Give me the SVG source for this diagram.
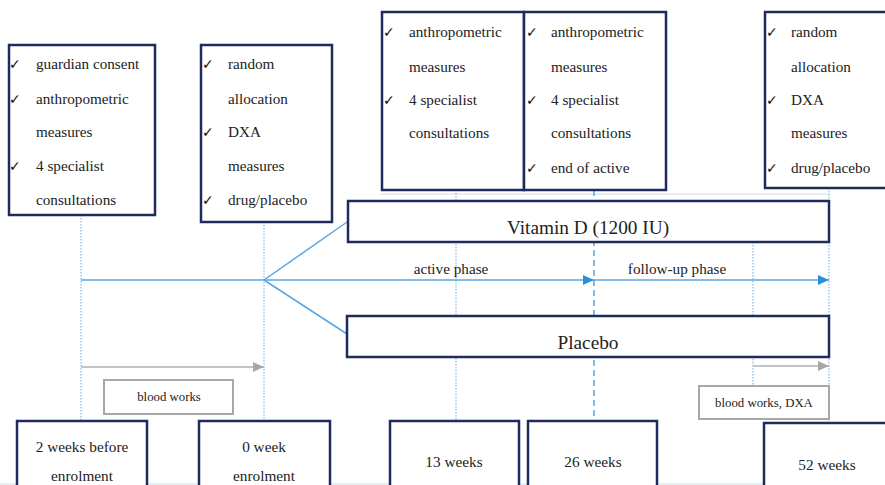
<svg xmlns="http://www.w3.org/2000/svg" width="885" height="485" viewBox="0 0 885 485">
<defs>
<style>
.box{fill:#fff;stroke:#1f2b5e;stroke-width:2.5}
.gbox{fill:#fff;stroke:#a8a8a8;stroke-width:2}
.t{font-family:"Liberation Serif",serif;font-size:15.2px;fill:#222}
.tc{font-family:"Liberation Serif",serif;font-size:15.3px;fill:#222;text-anchor:middle}
.tb{font-family:"Liberation Serif",serif;font-size:19.3px;fill:#222;text-anchor:middle}
.ts{font-family:"Liberation Serif",serif;font-size:12.8px;fill:#222;text-anchor:middle}
.tp{font-family:"Liberation Serif",serif;font-size:15.2px;fill:#222;text-anchor:middle}
.ck{font-family:"DejaVu Sans",sans-serif;font-size:14px;fill:#111}
.dot{stroke:#7fb8e6;stroke-width:1.2;stroke-dasharray:1.5 1.5;fill:none}
.dash{stroke:#4a9ee0;stroke-width:1.4;stroke-dasharray:6 4;fill:none}
.bl{stroke:#5aa6e2;stroke-width:1.5;fill:none}
.gl{stroke:#b0b0b0;stroke-width:1.5;fill:none}
.faint{stroke:#d3dde9;stroke-width:1;fill:none}
</style>
<marker id="ab" viewBox="0 0 11 10" refX="11" refY="5" markerWidth="11" markerHeight="10" markerUnits="userSpaceOnUse" orient="auto">
<path d="M0,0 L11,5 L0,10 Z" fill="#2a90dc"/>
</marker>
<marker id="ag" viewBox="0 0 11 10" refX="11" refY="5" markerWidth="11" markerHeight="10" markerUnits="userSpaceOnUse" orient="auto">
<path d="M0,0 L11,5 L0,10 Z" fill="#a8a8a8"/>
</marker>
</defs>
<rect width="885" height="485" fill="#fff"/>

<g id="connectors">
<line class="faint" x1="380" y1="194" x2="830" y2="194"/>
<line class="faint" x1="0" y1="484" x2="885" y2="484"/>
<line class="dot" x1="81" y1="215" x2="81" y2="421"/>
<line class="dot" x1="264" y1="222" x2="264" y2="421"/>
<line class="dot" x1="456" y1="190" x2="456" y2="421"/>
<line class="dash" x1="594" y1="190" x2="594" y2="421"/>
<line class="dot" x1="753" y1="242" x2="753" y2="386"/>
<line class="dot" x1="829" y1="188" x2="829" y2="423"/>
<line class="bl" x1="81" y1="280" x2="594" y2="280" marker-end="url(#ab)"/>
<line class="bl" x1="594" y1="280" x2="829" y2="280" marker-end="url(#ab)"/>
<line class="bl" x1="264" y1="280" x2="347" y2="222"/>
<line class="bl" x1="264" y1="280" x2="347" y2="334"/>
<line class="gl" x1="81" y1="367" x2="264" y2="367" marker-end="url(#ag)"/>
<line class="gl" x1="753" y1="366" x2="829" y2="366" marker-end="url(#ag)"/>
<text class="tp" x="451" y="274">active phase</text>
<text class="tp" x="677" y="274">follow-up phase</text>
</g>

<g id="screening">
<rect class="box" x="9" y="45" width="146" height="170"/>
<text class="ck" x="9" y="69">✓</text>
<text class="ck" x="9" y="104">✓</text>
<text class="ck" x="9" y="171">✓</text>
<text class="t" x="36" y="69">guardian consent</text>
<text class="t" x="36" y="104">anthropometric</text>
<text class="t" x="36" y="137">measures</text>
<text class="t" x="36" y="171">4 specialist</text>
<text class="t" x="36" y="205">consultations</text>
</g>

<g id="baseline">
<rect class="box" x="201" y="45" width="131" height="177"/>
<text class="ck" x="202" y="69">✓</text>
<text class="ck" x="202" y="137">✓</text>
<text class="ck" x="202" y="205">✓</text>
<text class="t" x="228" y="69">random</text>
<text class="t" x="228" y="104">allocation</text>
<text class="t" x="228" y="137">DXA</text>
<text class="t" x="228" y="171">measures</text>
<text class="t" x="228" y="205">drug/placebo</text>
</g>

<g id="week13">
<rect class="box" x="382" y="12" width="142" height="178"/>
<text class="ck" x="383" y="37">✓</text>
<text class="ck" x="383" y="105">✓</text>
<text class="t" x="409" y="37">anthropometric</text>
<text class="t" x="409" y="72">measures</text>
<text class="t" x="409" y="105">4 specialist</text>
<text class="t" x="409" y="138">consultations</text>
</g>

<g id="week26">
<rect class="box" x="524" y="12" width="142" height="178"/>
<text class="ck" x="526" y="37">✓</text>
<text class="ck" x="526" y="105">✓</text>
<text class="ck" x="526" y="173">✓</text>
<text class="t" x="551" y="37">anthropometric</text>
<text class="t" x="551" y="72">measures</text>
<text class="t" x="551" y="105">4 specialist</text>
<text class="t" x="551" y="138">consultations</text>
<text class="t" x="551" y="173">end of active</text>
</g>

<g id="week52">
<rect class="box" x="765" y="12" width="130" height="176"/>
<text class="ck" x="766" y="37">✓</text>
<text class="ck" x="766" y="105">✓</text>
<text class="ck" x="766" y="173">✓</text>
<text class="t" x="791" y="37">random</text>
<text class="t" x="791" y="72">allocation</text>
<text class="t" x="791" y="105">DXA</text>
<text class="t" x="791" y="138">measures</text>
<text class="t" x="791" y="173">drug/placebo</text>
</g>

<g id="vitaminD">
<rect class="box" x="348" y="201" width="481" height="41"/>
<text class="tb" x="588" y="234">Vitamin D (1200 IU)</text>
</g>

<g id="placebo">
<rect class="box" x="347" y="316" width="482" height="41"/>
<text class="tb" x="588" y="349">Placebo</text>
</g>

<g id="bloodworks">
<rect class="gbox" x="104" y="380" width="129" height="34"/>
<text class="ts" x="169" y="401">blood works</text>
</g>

<g id="bloodworksDXA">
<rect class="gbox" x="699" y="386" width="130" height="33"/>
<text class="ts" x="764" y="407">blood works, DXA</text>
</g>

<g id="t_minus2">
<rect class="box" x="17" y="421" width="130" height="80"/>
<text class="tc" x="82" y="452">2 weeks before</text>
<text class="tc" x="82" y="481">enrolment</text>
</g>

<g id="t0">
<rect class="box" x="199" y="421" width="131" height="80"/>
<text class="tc" x="264" y="452">0 week</text>
<text class="tc" x="264" y="481">enrolment</text>
</g>

<g id="t13">
<rect class="box" x="390" y="421" width="129" height="80"/>
<text class="tc" x="454" y="467">13 weeks</text>
</g>

<g id="t26">
<rect class="box" x="528" y="421" width="129" height="80"/>
<text class="tc" x="593" y="467">26 weeks</text>
</g>

<g id="t52">
<rect class="box" x="764" y="423" width="130" height="80"/>
<text class="tc" x="827" y="470">52 weeks</text>
</g>
</svg>
